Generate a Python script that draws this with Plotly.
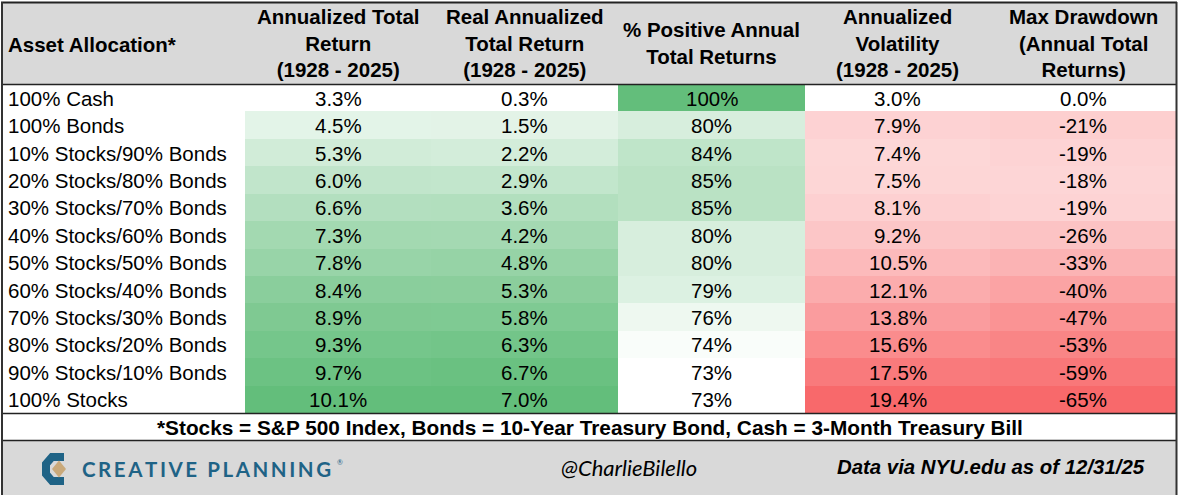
import plotly.graph_objects as go

# ---------------- data ----------------
allocations = [
    "100% Cash", "100% Bonds", "10% Stocks/90% Bonds", "20% Stocks/80% Bonds",
    "30% Stocks/70% Bonds", "40% Stocks/60% Bonds", "50% Stocks/50% Bonds",
    "60% Stocks/40% Bonds", "70% Stocks/30% Bonds", "80% Stocks/20% Bonds",
    "90% Stocks/10% Bonds", "100% Stocks",
]
annualized_return = [3.3, 4.5, 5.3, 6.0, 6.6, 7.3, 7.8, 8.4, 8.9, 9.3, 9.7, 10.1]
real_return = [0.3, 1.5, 2.2, 2.9, 3.6, 4.2, 4.8, 5.3, 5.8, 6.3, 6.7, 7.0]
pct_positive = [100, 80, 84, 85, 85, 80, 80, 79, 76, 74, 73, 73]
volatility = [3.0, 7.9, 7.4, 7.5, 8.1, 9.2, 10.5, 12.1, 13.8, 15.6, 17.5, 19.4]
max_drawdown = [0.0, -21, -19, -18, -19, -26, -33, -40, -47, -53, -59, -65]

headers = [
    "Asset Allocation*",
    "Annualized Total<br>Return<br>(1928 - 2025)",
    "Real Annualized<br>Total Return<br>(1928 - 2025)",
    "% Positive Annual<br>Total Returns",
    "Annualized<br>Volatility<br>(1928 - 2025)",
    "Max Drawdown<br>(Annual Total<br>Returns)",
]
footnote = "*Stocks = S&P 500 Index, Bonds = 10-Year Treasury Bond, Cash = 3-Month Treasury Bill"
brand = "CREATIVE PLANNING"
handle = "@CharlieBilello"
source = "Data via NYU.edu as of 12/31/25"

# ---------------- layout constants ----------------
W, H = 1178, 495
FONT = "Liberation Sans, Arial, sans-serif"
FS = 20.5
COL_EDGES = [2, 245, 431, 618, 805, 990, 1176]
HEADER_TOP, BODY_TOP, BODY_BOTTOM, NOTE_BOTTOM = 3, 84, 413, 440
TEXT_DROP = 0.5
GREEN, RED, WHITE = "#63BE7B", "#F8696B", "#FFFFFF"
GRAY = "#D9D9D9"
TEAL, TAN = "#1F6386", "#C9A97A"


def px(x):
    return x / W


def py(y):
    return 1 - y / H


def pct1(vals):
    return [f"{v:.1f}%" for v in vals]


def pct0(vals):
    return [f"{v:.0f}%" for v in vals]


def dd_fmt(vals):
    return ["0.0%" if v == 0 else f"{v:.0f}%" for v in vals]


columns = [
    (annualized_return, pct1(annualized_return), [[0, WHITE], [1, GREEN]]),
    (real_return, pct1(real_return), [[0, WHITE], [1, GREEN]]),
    (pct_positive, pct0(pct_positive), [[0, WHITE], [1, GREEN]]),
    (volatility, pct1(volatility), [[0, WHITE], [1, RED]]),
    (max_drawdown, dd_fmt(max_drawdown), [[0, RED], [1, WHITE]]),
]

fig = go.Figure()
annotations = []

for i, (vals, texts, cs) in enumerate(columns):
    x0, x1 = COL_EDGES[i + 1], COL_EDGES[i + 2]
    fig.add_trace(go.Heatmap(
        z=[[v] for v in vals],
        x=[x0, x1],
        y=allocations,
        zmin=min(vals), zmax=max(vals),
        colorscale=cs, showscale=False,
        hoverinfo="skip", xgap=0, ygap=0,
    ))
    for cat, t in zip(allocations, texts):
        annotations.append(dict(xref="x", yref="y", x=(x0 + x1) / 2, y=cat, text=t,
                                showarrow=False, xanchor="center", yanchor="middle",
                                yshift=-TEXT_DROP,
                                font=dict(family=FONT, size=FS, color="black")))

for cat in allocations:
    annotations.append(dict(xref="x", yref="y", x=6, y=cat, text=cat, showarrow=False,
                            xanchor="left", yanchor="middle", yshift=-TEXT_DROP,
                            font=dict(family=FONT, size=FS, color="black")))

shapes = []
# backgrounds
shapes.append(dict(type="rect", xref="paper", yref="paper", x0=px(2), x1=px(1176),
                   y0=py(HEADER_TOP), y1=py(BODY_TOP), fillcolor=GRAY, line_width=0, layer="below"))
shapes.append(dict(type="rect", xref="paper", yref="paper", x0=px(2), x1=px(1176),
                   y0=py(NOTE_BOTTOM), y1=py(H + 5), fillcolor=GRAY, line_width=0, layer="below"))
# rules
for yy, wd in [(2.5, 2), (BODY_TOP + 0.5, 1.6), (BODY_BOTTOM + 0.5, 1.6), (NOTE_BOTTOM + 0.5, 1.6)]:
    shapes.append(dict(type="line", xref="paper", yref="paper", x0=px(1), x1=px(1177),
                       y0=py(yy), y1=py(yy), line=dict(color="#222222", width=wd), layer="above"))
for xx in [2, 1176.5]:
    shapes.append(dict(type="line", xref="paper", yref="paper", x0=px(xx), x1=px(xx),
                       y0=py(2), y1=py(H + 5), line=dict(color="#333333", width=2), layer="above"))


def ppath(pts):
    return "M " + " L ".join(f"{px(x):.5f},{py(y):.5f}" for x, y in pts)


# logo: C mark + diamond
shapes.append(dict(type="path", xref="paper", yref="paper",
                   path=ppath([(64, 457), (52, 457), (46, 464), (46, 474), (52, 481), (64, 481)]),
                   line=dict(color=TEAL, width=8), layer="above"))
shapes.append(dict(type="path", xref="paper", yref="paper",
                   path=ppath([(59, 460.5), (66, 469), (59, 477.5), (52, 469)]) + " Z",
                   fillcolor=TAN, line_width=0, layer="above"))

hdr_y = (HEADER_TOP + BODY_TOP) / 2 - 0.5
annotations.append(dict(xref="paper", yref="paper", x=px(6), y=py(hdr_y + 1), xanchor="left",
                        yanchor="middle", text=f"<b>{headers[0]}</b>", showarrow=False,
                        font=dict(family=FONT, size=FS, color="black")))
for i in range(1, 6):
    cx = (COL_EDGES[i] + COL_EDGES[i + 1]) / 2
    annotations.append(dict(xref="paper", yref="paper", x=px(cx), y=py(hdr_y), xanchor="center",
                            yanchor="middle", align="center", text=f"<b>{headers[i]}</b>",
                            showarrow=False, font=dict(family=FONT, size=FS, color="black")))

annotations.append(dict(xref="paper", yref="paper", x=px(590), y=py(427.5), xanchor="center",
                        yanchor="middle", text=f"<b>{footnote}</b>", showarrow=False,
                        font=dict(family=FONT, size=20.8, color="black")))
annotations.append(dict(xref="paper", yref="paper", x=px(80), y=py(469), xanchor="left",
                        yanchor="middle", text="<b>" + "\u2009".join(brand) + "</b>", showarrow=False,
                        font=dict(family="Lato, Open Sans, sans-serif", size=20.5, color=TEAL)))
annotations.append(dict(xref="paper", yref="paper", x=px(335), y=py(462), xanchor="left",
                        yanchor="middle", text="®", showarrow=False,
                        font=dict(family="Lato, sans-serif", size=7, color=TEAL)))
annotations.append(dict(xref="paper", yref="paper", x=px(629), y=py(467), xanchor="center",
                        yanchor="middle", text=f"<i>{handle}</i>", showarrow=False,
                        font=dict(family="Lato, sans-serif", size=22, color="black")))
annotations.append(dict(xref="paper", yref="paper", x=px(1147), y=py(467), xanchor="right",
                        yanchor="middle", text=f"<b><i>{source}</i></b>", showarrow=False,
                        font=dict(family=FONT, size=20.4, color="black")))

fig.update_layout(
    width=W, height=H, margin=dict(l=0, r=0, t=0, b=0),
    paper_bgcolor="white", plot_bgcolor="rgba(0,0,0,0)",
    showlegend=False, shapes=shapes, annotations=annotations,
    xaxis=dict(range=[0, W], domain=[0, 1], visible=False, fixedrange=True),
    yaxis=dict(type="category", categoryorder="array", categoryarray=allocations,
               range=[len(allocations) - 0.5, -0.5],
               domain=[py(BODY_BOTTOM), py(BODY_TOP)], visible=False, fixedrange=True),
)

fig.write_html(
    "out.html",
    config={"displayModeBar": False},
    post_script="document.body.style.margin='0';document.body.style.overflow='hidden';",
)
